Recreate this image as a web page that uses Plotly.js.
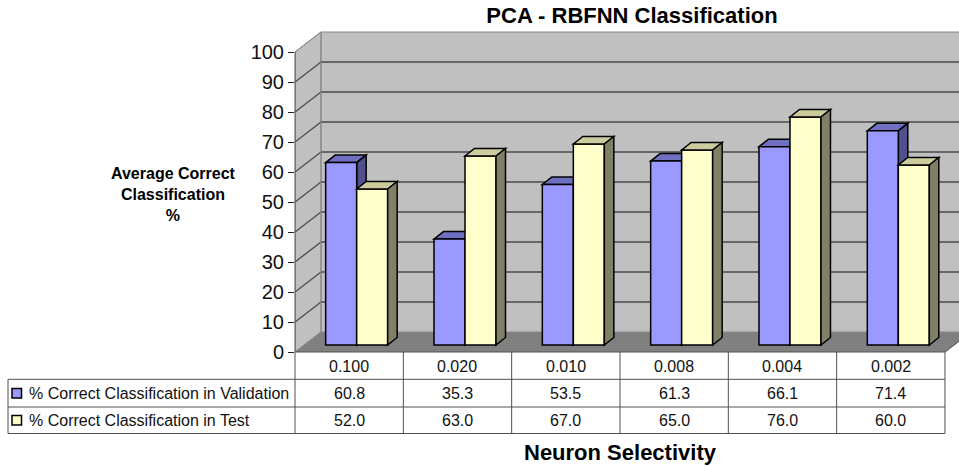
<!DOCTYPE html>
<html>
<head>
<meta charset="utf-8">
<script src="https://cdn.plot.ly/plotly-3.0.1.min.js"></script>
<style>
  html, body { margin: 0; padding: 0; background: #ffffff; }
  #chart { width: 959px; height: 467px; }
</style>
</head>
<body>
<div id="chart"></div>
<script>
// ---- data ----
const selectivity = ['0.100', '0.020', '0.010', '0.008', '0.004', '0.002'];
const validation = [60.8, 35.3, 53.5, 61.3, 66.1, 71.4];
const test = [52.0, 63.0, 67.0, 65.0, 76.0, 60.0];
const seriesNames = ['% Correct Classification in Validation', '% Correct Classification in Test'];
const yTicks = [0, 10, 20, 30, 40, 50, 60, 70, 80, 90, 100];

// ---- page geometry (pixels) ----
const W = 959, H = 467;
const LEFT = 295;        // front vertical axis
const TOP = 30;          // top of plotting area
const ZERO = 352;        // pixel row of value 0 on the front plane
const COL = 108.33;      // width of one category column
const PXY = 3;           // pixels per percent
const BACK_DX = 26, BACK_DY = 20;     // depth of the back wall
const FACE_DX = 7.5, FACE_DY = 7;     // bars stand a little behind the front edge
const DEPTH_DX = 9.5, DEPTH_DY = 7.5; // thickness of each bar
const BAR_W = 31;

const FONT = 'Liberation Sans, Arial, Helvetica, sans-serif';

// pixel -> data / paper helpers
const dx = px => px / COL;
const dy = px => px / PXY;
const X = px => (px - LEFT) / COL - 0.5;
const Y = py => (ZERO - py) / PXY;
const PX = px => (px - LEFT) / (W - LEFT);
const PY = py => (ZERO - py) / (ZERO - TOP);

const idx = selectivity.map((_, i) => i);
const base = dy(FACE_DY);
const barW = dx(BAR_W);
const xs = idx.map(i => i + dx(FACE_DX));

const COLORS = {
  blue: '#9999FF', blueTop: '#7070C2', blueSide: '#50508C',
  yellow: '#FFFFCC', yellowTop: '#CCCC9E', yellowSide: '#808066',
  wall: '#C0C0C0', floor: '#808080', grid: '#4A4A4A', edge: '#888888',
  table: '#505050'
};

const traces = [
  {
    type: 'bar', name: seriesNames[0], x: xs, y: validation, base: base,
    width: barW, offset: -barW,
    marker: { color: COLORS.blue, line: { color: '#000', width: 1.5 } },
    hoverinfo: 'skip'
  },
  {
    type: 'bar', name: seriesNames[1], x: xs, y: test, base: base,
    width: barW, offset: 0,
    marker: { color: COLORS.yellow, line: { color: '#000', width: 1.5 } },
    hoverinfo: 'skip'
  }
];

const shapes = [];
const poly = (pts) => 'M' + pts.map(p => p[0] + ',' + p[1]).join(' L') + ' Z';

// back wall
shapes.push({
  type: 'rect', xref: 'x', yref: 'y', layer: 'below',
  x0: X(LEFT + BACK_DX), x1: X(W + 40), y0: Y(ZERO - BACK_DY), y1: Y(ZERO - BACK_DY) + 100,
  fillcolor: COLORS.wall, line: { width: 0 }
});
// side wall
shapes.push({
  type: 'path', xref: 'x', yref: 'y', layer: 'below',
  path: poly([[X(LEFT), 0], [X(LEFT), 100], [X(LEFT + BACK_DX), Y(ZERO - BACK_DY) + 100], [X(LEFT + BACK_DX), Y(ZERO - BACK_DY)]]),
  fillcolor: COLORS.wall, line: { color: COLORS.edge, width: 1 }
});
// floor
shapes.push({
  type: 'path', xref: 'x', yref: 'y', layer: 'below',
  path: poly([[X(LEFT), 0], [X(LEFT + BACK_DX), Y(ZERO - BACK_DY)], [X(LEFT + 6 * COL + BACK_DX), Y(ZERO - BACK_DY)], [X(LEFT + 6 * COL), 0]]),
  fillcolor: COLORS.floor, line: { color: COLORS.edge, width: 1 }
});
// gridlines on side and back wall
yTicks.filter(v => v > 0).forEach(v => {
  const yb = Y(ZERO - BACK_DY) + v;
  const col = v === 100 ? COLORS.edge : COLORS.grid;
  const w = v === 100 ? 1 : 1.3;
  shapes.push({ type: 'line', xref: 'x', yref: 'y', layer: 'below',
    x0: X(LEFT), y0: v, x1: X(LEFT + BACK_DX), y1: yb, line: { color: col, width: w } });
  shapes.push({ type: 'line', xref: 'x', yref: 'y', layer: 'below',
    x0: X(LEFT + BACK_DX), y0: yb, x1: X(W + 40), y1: yb, line: { color: col, width: w } });
});
// back wall left edge
shapes.push({ type: 'line', xref: 'x', yref: 'y', layer: 'below',
  x0: X(LEFT + BACK_DX), y0: Y(ZERO - BACK_DY), x1: X(LEFT + BACK_DX), y1: Y(ZERO - BACK_DY) + 100,
  line: { color: COLORS.edge, width: 1 } });

// 3-D top and side faces of the bars
function faces(values, leftOff, top, side, layer) {
  const ddx = dx(DEPTH_DX), ddy = dy(DEPTH_DY);
  values.forEach((v, i) => {
    const x0 = xs[i] + leftOff, x1 = x0 + barW;
    const t = base + v;
    shapes.push({ type: 'path', xref: 'x', yref: 'y', layer: layer,
      path: poly([[x0, t], [x0 + ddx, t + ddy], [x1 + ddx, t + ddy], [x1, t]]),
      fillcolor: top, line: { color: '#000', width: 1.5 } });
    shapes.push({ type: 'path', xref: 'x', yref: 'y', layer: layer,
      path: poly([[x1, base], [x1, t], [x1 + ddx, t + ddy], [x1 + ddx, base + ddy]]),
      fillcolor: side, line: { color: '#000', width: 1.5 } });
  });
}
faces(validation, -barW, COLORS.blueTop, COLORS.blueSide, 'below');
faces(test, 0, COLORS.yellowTop, COLORS.yellowSide, 'above');

// front value axis line
shapes.push({ type: 'line', xref: 'paper', yref: 'paper',
  x0: 0, x1: 0, y0: PY(ZERO), y1: PY(ZERO - 100 * PXY), line: { color: COLORS.table, width: 1 } });

// ---- data table ----
const ROWS = [ZERO, 379.3, 407, 433.5];
const TABLE_L = 8;
const TABLE_R = LEFT + 6 * COL;
const line = (x0, y0, x1, y1) => ({ type: 'line', xref: 'paper', yref: 'paper',
  x0: PX(x0), y0: PY(y0), x1: PX(x1), y1: PY(y1), line: { color: COLORS.table, width: 1 } });
shapes.push(line(LEFT, ROWS[0], TABLE_R, ROWS[0]));
for (let r = 1; r < ROWS.length; r++) shapes.push(line(TABLE_L, ROWS[r], TABLE_R, ROWS[r]));
shapes.push(line(TABLE_L, ROWS[1], TABLE_L, ROWS[3]));
for (let c = 0; c <= selectivity.length; c++) shapes.push(line(LEFT + c * COL, ROWS[0], LEFT + c * COL, ROWS[3]));
// floor right edge
shapes.push({ type: 'line', xref: 'paper', yref: 'paper',
  x0: PX(TABLE_R), y0: PY(ZERO), x1: PX(TABLE_R + BACK_DX), y1: PY(ZERO - BACK_DY),
  line: { color: COLORS.table, width: 1 } });

// legend keys in the table
[COLORS.blue, COLORS.yellow].forEach((c, r) => {
  const cy = (ROWS[r + 1] + ROWS[r + 2]) / 2;
  shapes.push({ type: 'rect', xref: 'paper', yref: 'paper',
    x0: PX(12), x1: PX(21.5), y0: PY(cy + 4.75), y1: PY(cy - 4.75),
    fillcolor: c, line: { color: '#000', width: 1.5 } });
});

const annotations = [];
const txt = (text, x, y, opts) => Object.assign({
  text: text, xref: 'paper', yref: 'paper', x: PX(x), y: PY(y),
  xanchor: 'center', yanchor: 'middle', showarrow: false,
  font: { family: FONT, size: 16, color: '#111' }
}, opts || {});

selectivity.forEach((s, i) => {
  const cx = LEFT + (i + 0.5) * COL;
  annotations.push(txt(s, cx, (ROWS[0] + ROWS[1]) / 2 + 1));
  annotations.push(txt(validation[i].toFixed(1), cx, (ROWS[1] + ROWS[2]) / 2));
  annotations.push(txt(test[i].toFixed(1), cx, (ROWS[2] + ROWS[3]) / 2));
});
seriesNames.forEach((n, r) => {
  annotations.push(txt(n, 27, (ROWS[r + 1] + ROWS[r + 2]) / 2, { xanchor: 'left' }));
});

// axis titles
annotations.push(txt('<b>Average Correct<br>Classification<br>%</b>', 173, 194,
  { font: { family: FONT, size: 16, color: '#000' } }));
annotations.push(txt('<b>Neuron Selectivity</b>', 620, 452,
  { font: { family: FONT, size: 22, color: '#000' } }));

const layout = {
  width: W, height: H,
  margin: { l: LEFT, r: 0, t: TOP, b: H - ZERO, pad: 0 },
  paper_bgcolor: '#ffffff', plot_bgcolor: 'rgba(0,0,0,0)',
  showlegend: false,
  barmode: 'overlay',
  title: {
    text: '<b>PCA - RBFNN Classification</b>',
    font: { family: FONT, size: 22, color: '#000' },
    x: 632 / W, xanchor: 'center', xref: 'container',
    y: 1 - 15 / H, yanchor: 'middle', yref: 'container'
  },
  xaxis: {
    range: [-0.5, -0.5 + (W - LEFT) / COL],
    showgrid: false, zeroline: false, showline: false,
    showticklabels: false, ticks: '', fixedrange: true
  },
  yaxis: {
    range: [0, (ZERO - TOP) / PXY],
    tickvals: yTicks, ticks: 'outside', ticklen: 6, tickcolor: '#222', tickwidth: 1,
    tickfont: { family: FONT, size: 20, color: '#111' },
    showgrid: false, zeroline: false, showline: false, fixedrange: true
  },
  shapes: shapes,
  annotations: annotations
};

Plotly.newPlot('chart', traces, layout, { displayModeBar: false, staticPlot: true });
</script>
</body>
</html>
